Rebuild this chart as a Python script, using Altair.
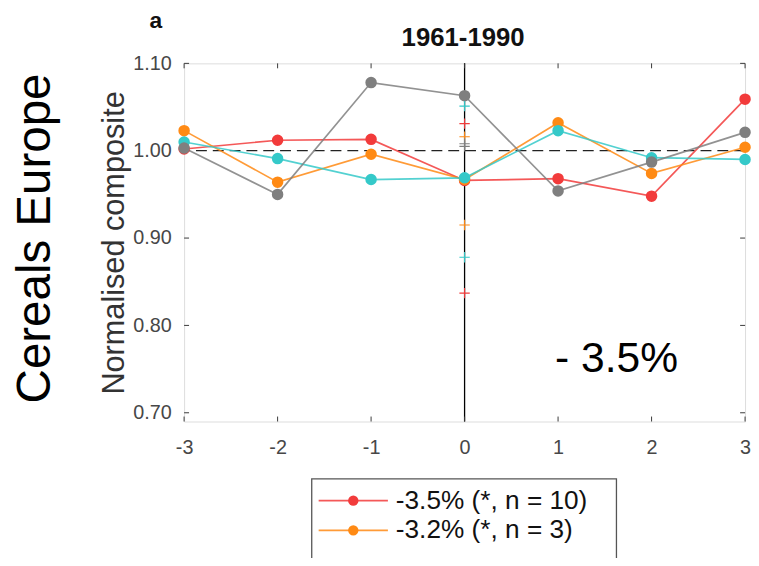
import altair as alt
import pandas as pd

# ---- data ----
lags = [-3, -2, -1, 0, 1, 2, 3]
series_names = ["red", "orange", "cyan", "gray"]
series_colors = ["#f23b3b", "#ff8a14", "#35c9c9", "#7f7f7f"]
red_vals = [1.002, 1.012, 1.013, 0.966, 0.968, 0.948, 1.059]
orange_vals = [1.023, 0.964, 0.996, 0.967, 1.032, 0.974, 1.004]
cyan_vals = [1.010, 0.991, 0.967, 0.969, 1.023, 0.992, 0.990]
gray_vals = [1.003, 0.950, 1.078, 1.063, 0.954, 0.987, 1.021]

# confidence markers at lag 0
ci_series = ["cyan", "cyan", "red", "red", "orange", "orange", "gray", "gray"]
ci_vals = [1.051, 0.878, 1.031, 0.837, 1.016, 0.915, 1.008, 1.005]

legend_labels = ["-3.5% (*, n = 10)", "-3.2% (*, n = 3)"]
x_ticks = [-3, -2, -1, 0, 1, 2, 3]
y_ticks = [0.7, 0.8, 0.9, 1.0, 1.1]
ref_y = [1.0]
ref_x = [0]

title_text = "1961-1990"
panel_letter = "a"
row_label = "Cereals Europe"
change_text = "- 3.5%"
y_title = "Normalised composite"

# ---- tables ----
rows = []
for name, vals in zip(series_names, [red_vals, orange_vals, cyan_vals, gray_vals]):
    for lag, v in zip(lags, vals):
        rows.append({"series": name, "lag": lag, "value": v, "order": series_names.index(name)})
df = pd.DataFrame(rows)
ci_df = pd.DataFrame({"series": ci_series, "lag": [0] * len(ci_vals), "value": ci_vals})

W, H = 567, 362
FONT = "Liberation Sans"
AXC = "#3a3a3a"
LABC = "#474747"

xscale = alt.Scale(domain=[-3, 3], nice=False, zero=False)
yscale = alt.Scale(domain=[0.69, 1.10], nice=False, zero=False)
cscale = alt.Scale(domain=series_names, range=series_colors)

xaxis = alt.Axis(values=x_ticks, labelExpr="datum.value + ''", labelFontSize=20,
                 labelColor=LABC, labelFont=FONT, domain=False, ticks=False, tickSize=0,
                 grid=False, labelPadding=16, title=None, labelFlush=False)
yaxis = alt.Axis(values=y_ticks, format=".2f", labelFontSize=20, labelColor=LABC,
                 labelFont=FONT, domain=False, ticks=False, tickSize=0, grid=False,
                 labelPadding=13, title=y_title, titleFontSize=31, titleFontWeight="normal",
                 titleColor="#333333", titleFont=FONT, titleX=-61, titleY=181,
                 titleAngle=270, titleAlign="center", titleBaseline="alphabetic",
                 labelFlush=False)


def X(field):
    return alt.X(field, type="quantitative", scale=xscale, axis=xaxis)


def Y(field):
    return alt.Y(field, type="quantitative", scale=yscale, axis=yaxis)


hline = alt.Chart(pd.DataFrame({"y": ref_y})).mark_rule(
    color="#222222", strokeWidth=1.3, strokeDash=[11, 6]
).encode(y=Y("y"))

vline = alt.Chart(pd.DataFrame({"x": ref_x})).mark_rule(
    color="#000000", strokeWidth=1.3
).encode(x=X("x"))

# inward ticks
xt = pd.DataFrame({"x": x_ticks})
yt = pd.DataFrame({"y": y_ticks})
tick_top = alt.Chart(xt).mark_rule(color=AXC, strokeWidth=1).encode(
    x=X("x"), y=alt.value(0), y2=alt.value(5))
tick_bot = alt.Chart(xt).mark_rule(color=AXC, strokeWidth=1).encode(
    x=X("x"), y=alt.value(H), y2=alt.value(H - 5))
tick_left = alt.Chart(yt).mark_rule(color=AXC, strokeWidth=1).encode(
    y=Y("y"), x=alt.value(0), x2=alt.value(5))
tick_right = alt.Chart(yt).mark_rule(color=AXC, strokeWidth=1).encode(
    y=Y("y"), x=alt.value(W), x2=alt.value(W - 5))

lines = alt.Chart(df).mark_line(strokeWidth=1.7, opacity=0.85).encode(
    x=X("lag"), y=Y("value"),
    color=alt.Color("series:N", scale=cscale, legend=None),
    detail="series:N", order="lag:Q")

points = alt.Chart(df).mark_point(filled=True, size=135, opacity=1).encode(
    x=X("lag"), y=Y("value"),
    color=alt.Color("series:N", scale=cscale, legend=None),
    order="order:Q")

plus = alt.Chart(ci_df).mark_point(
    shape="M-1,0L1,0M0,-1L0,1", size=110, strokeWidth=1.1, filled=False, opacity=1
).encode(x=X("lag"), y=Y("value"),
         color=alt.Color("series:N", scale=cscale, legend=None))

# annotations
txt_df = pd.DataFrame({"t": [0]})
title_mark = alt.Chart(txt_df).mark_text(
    text=title_text, font=FONT, fontSize=26, fontWeight="bold", color="#111111",
    align="center", baseline="alphabetic"
).encode(x=alt.value(282), y=alt.value(-18))
letter_mark = alt.Chart(txt_df).mark_text(
    text=panel_letter, font=FONT, fontSize=23, fontWeight="bold", color="#111111",
    align="left", baseline="alphabetic"
).encode(x=alt.value(-35), y=alt.value(-36))
row_mark = alt.Chart(txt_df).mark_text(
    text=row_label, font=FONT, fontSize=48, color="#000000", angle=270,
    align="center", baseline="alphabetic"
).encode(x=alt.value(-136), y=alt.value(177))
change_mark = alt.Chart(txt_df).mark_text(
    text=change_text, font=FONT, fontSize=43, color="#000000",
    align="left", baseline="alphabetic"
).encode(x=alt.value(375), y=alt.value(312))

# manual legend (box clipped at page bottom like reference)
leg_box = alt.Chart(txt_df).mark_rect(
    fill="white", stroke="#555555", strokeWidth=1.3
).encode(x=alt.value(129), x2=alt.value(437), y=alt.value(420), y2=alt.value(600))

legend_layers = [leg_box]
for i, (lab, col) in enumerate(zip(legend_labels, series_colors[:2])):
    yy = 442 + 30 * i
    legend_layers.append(alt.Chart(txt_df).mark_rule(color=col, strokeWidth=1.7, opacity=0.85).encode(
        x=alt.value(136), x2=alt.value(206), y=alt.value(yy)))
    legend_layers.append(alt.Chart(txt_df).mark_point(filled=True, size=110, color=col, opacity=1).encode(
        x=alt.value(171), y=alt.value(yy)))
    legend_layers.append(alt.Chart(txt_df).mark_text(
        text=lab, font=FONT, fontSize=26.5, color="#111111", align="left", baseline="alphabetic"
    ).encode(x=alt.value(214), y=alt.value(yy + 8)))

chart = alt.layer(
    hline, vline, tick_top, tick_bot, tick_left, tick_right,
    lines, points, plus,
    title_mark, letter_mark, row_mark, change_mark,
    *legend_layers
).properties(
    width=W, height=H,
    autosize=alt.AutoSizeParams(type="none"),
    padding={"left": 178, "top": 53, "right": 6, "bottom": 135},
).configure_view(
    stroke=AXC, strokeWidth=1.3
).configure(background="white")

chart.save("out.html", embed_options={"renderer": "svg", "actions": False})
